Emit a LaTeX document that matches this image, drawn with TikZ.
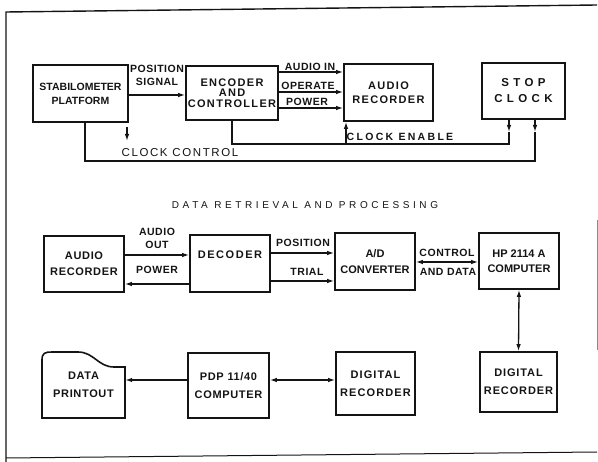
\documentclass[tikz,border=0pt]{standalone}
\usepackage{fontspec}
\setmainfont{Liberation Sans}
\definecolor{inkDark}{HTML}{141414}
\definecolor{inkFaint}{HTML}{8A8A8A}
\usetikzlibrary{arrows.meta}

\tikzset{
  unit/.style={draw=inkDark, line width=1.6pt, align=center, inner sep=0pt, text=inkDark,
    font=\bfseries\fontsize{11}{14}\selectfont\addfontfeature{LetterSpace=12}},
  wire/.style={draw=inkDark, line width=1.3pt},
  sig/.style={wire, -{Latex[length=7pt,width=4.5pt]}},
  dsig/.style={wire, {Latex[length=7pt,width=4.5pt]}-{Latex[length=7pt,width=4.5pt]}},
  tag/.style={align=center, inner sep=0pt, text=inkDark,
    font=\bfseries\fontsize{10.5}{13}\selectfont\addfontfeature{LetterSpace=5}},
}

\begin{document}
\begin{tikzpicture}[x=1pt, y=-1pt]
    \useasboundingbox (0,0) rectangle (598,462);

    \draw[inkDark, line width=1.4pt] (6,462) -- (6,12) -- (597,5);
    \draw[inkDark, line width=1pt] (6,458) -- (597,452);
    \draw[inkFaint, line width=0.6pt] (597,220) -- (597,350);

    \node[unit, minimum width=95pt, minimum height=57pt, font=\bfseries\fontsize{10.5}{14}\selectfont] (stab) at (80.5,93.5) {STABILOMETER\\PLATFORM};
    \node[unit, minimum width=92pt, minimum height=54pt, font=\bfseries\fontsize{11}{10.5}\selectfont\addfontfeature{LetterSpace=12}] (enc) at (232,93) {ENCODER\\AND\\CONTROLLER};
    \node[unit, minimum width=89pt, minimum height=57pt] (arec) at (388.5,92.5) {AUDIO\\RECORDER};
    \node[unit, minimum width=83pt, minimum height=56pt, font=\bfseries\fontsize{11.5}{16}\selectfont\addfontfeature{LetterSpace=38}] (stop) at (523.5,91) {STOP\\CLOCK};

    \node[tag] (tPos) at (157,75) {POSITION\\SIGNAL};
    \node[tag] (tAin) at (310,67) {AUDIO IN};
    \node[tag] (tOpr) at (308,86) {OPERATE};
    \node[tag] (tPwr) at (307,102) {POWER};
    \node[tag, font=\bfseries\fontsize{10.5}{13}\selectfont\addfontfeature{LetterSpace=22}] (tEnb) at (400,137) {CLOCK ENABLE};
    \node[tag, font=\fontsize{11.5}{13}\selectfont\addfontfeature{LetterSpace=14}] (tCtr) at (180,153) {CLOCK CONTROL};

    \draw[sig] (stab.east |- 0,95) -- (enc.west |- 0,95);
    \draw[sig] (enc.east |- 0,72) -- (arec.west |- 0,72);
    \draw[sig] (enc.east |- 0,92) -- (arec.west |- 0,92);
    \draw[sig] (enc.east |- 0,108) -- (arec.west |- 0,108);

    \coordinate (enbMark) at (509,132);
    \coordinate (ctrMark) at (535,132);
    \coordinate (enbTap) at (346,144);
    \coordinate (ctrDrop) at (85,161);
    \coordinate (ctrHint) at (127,127);
    \draw[sig] (stop.south -| enbMark) -- (enbMark);
    \draw[wire] (enbMark) |- (enc.south |- enbTap) -- (enc.south);
    \draw[sig] (enbTap) -- (enbTap |- arec.south);
    \draw[sig] (stop.south -| ctrMark) -- (ctrMark);
    \draw[wire] (ctrMark) |- (ctrDrop) -- (ctrDrop |- stab.south);
    \draw[sig] (ctrHint) -- ++(0,14);

    \node[text=inkDark, inner sep=0pt, font=\fontsize{10}{11}\selectfont\addfontfeature{LetterSpace=36}] (title) at (305,205) {DATA RETRIEVAL AND PROCESSING};

    \node[unit, minimum width=80pt, minimum height=56pt, font=\bfseries\fontsize{11}{16}\selectfont\addfontfeature{LetterSpace=6}] (arecB) at (84,264) {AUDIO\\RECORDER};
    \node[unit, minimum width=80pt, minimum height=57pt, text depth=18pt, font=\bfseries\fontsize{11}{14}\selectfont\addfontfeature{LetterSpace=14}] (dec) at (230,263.5) {DECODER};
    \node[unit, minimum width=80pt, minimum height=57pt, font=\bfseries\fontsize{11}{16}\selectfont] (adc) at (375,261.5) {A/D\\CONVERTER};
    \node[unit, minimum width=80pt, minimum height=56pt, font=\bfseries\fontsize{11}{15}\selectfont] (hp) at (519,261) {HP 2114 A\\COMPUTER};

    \node[tag] (tAout) at (157,238) {AUDIO\\OUT};
    \node[tag] (tPwrB) at (157,270) {POWER};
    \node[tag] (tPosB) at (303,243) {POSITION};
    \node[tag] (tTri) at (307,272) {TRIAL};
    \node[tag] (tCtl) at (447,253) {CONTROL};
    \node[tag] (tDat) at (448,272) {AND DATA};

    \draw[sig] (arecB.east |- 0,255) -- (dec.west |- 0,255);
    \draw[sig] (dec.west |- 0,284) -- (arecB.east |- 0,284);
    \draw[sig] (dec.east |- 0,253) -- (adc.west |- 0,253);
    \draw[sig] (dec.east |- 0,281) -- (adc.west |- 0,281);
    \draw[dsig] (adc.east |- 0,262) -- (hp.west |- 0,262);

    \draw[inkDark, line width=1.6pt] (42,418) -- (42,360) .. controls (42,353) and (45,352) .. (52,352) -- (78,352) .. controls (94,352) and (98,367) .. (114,367) -- (125,367) -- (125,418) -- cycle;
    \node[align=center, inner sep=0pt, text=inkDark, minimum width=83pt, minimum height=66pt, font=\bfseries\fontsize{11}{18}\selectfont\addfontfeature{LetterSpace=6}] (print) at (83.5,385) {DATA\\PRINTOUT};
    \node[unit, minimum width=81pt, minimum height=65pt, font=\bfseries\fontsize{11}{18}\selectfont\addfontfeature{LetterSpace=6}] (pdp) at (228.5,385.5) {PDP 11/40\\COMPUTER};
    \node[unit, minimum width=79pt, minimum height=63pt, font=\bfseries\fontsize{11}{18}\selectfont\addfontfeature{LetterSpace=10}] (drecA) at (375.5,383.5) {DIGITAL\\RECORDER};
    \node[unit, minimum width=77pt, minimum height=60pt, font=\bfseries\fontsize{11}{18}\selectfont\addfontfeature{LetterSpace=8}] (drecB) at (518.5,382) {DIGITAL\\RECORDER};

    \draw[sig] (pdp.west |- 0,380) -- (print.east |- 0,380);
    \draw[dsig] (pdp.east |- 0,380) -- (drecA.west |- 0,380);
    \draw[dsig] (hp.south) -- (drecB.north);
\end{tikzpicture}
\end{document}
